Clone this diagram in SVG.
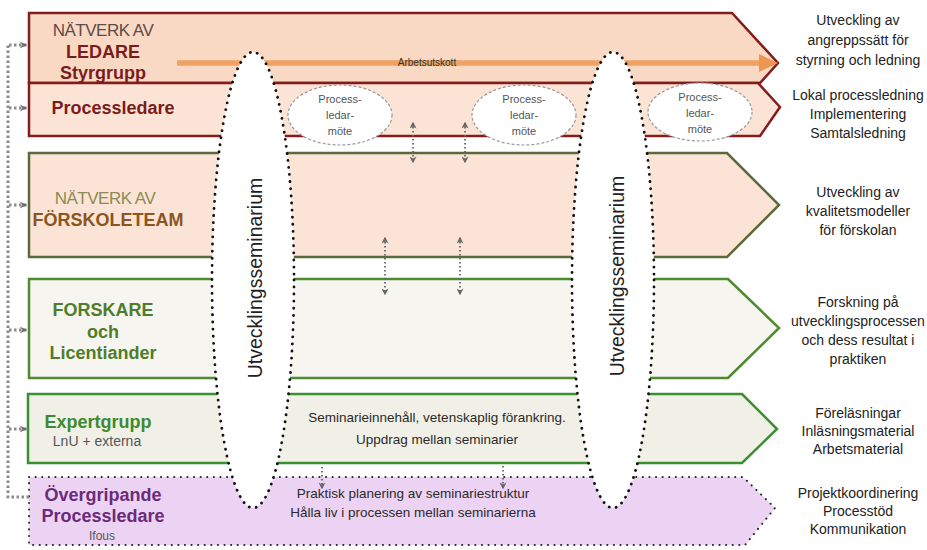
<svg xmlns="http://www.w3.org/2000/svg" width="927" height="550" viewBox="0 0 927 550">
<defs>
<style>
.lbl{font-family:"Liberation Sans",Arial,sans-serif;font-weight:bold;font-size:18px;text-anchor:middle}
.lt{font-family:"Liberation Sans",Arial,sans-serif;font-size:17px;text-anchor:middle;letter-spacing:-0.5px}
.rt{font-family:"Liberation Sans",Arial,sans-serif;font-size:14px;fill:#222;text-anchor:middle}
.mt{font-family:"Liberation Sans",Arial,sans-serif;font-size:13.5px;fill:#2a2a2a;text-anchor:middle}
.pm{font-family:"Liberation Sans",Arial,sans-serif;font-size:11px;fill:#555;text-anchor:middle}
.sem{font-family:"Liberation Sans",Arial,sans-serif;font-size:19.5px;fill:#222;text-anchor:middle}
.big{fill:#fff;stroke:#111;stroke-width:2.8;stroke-dasharray:0.1 7;stroke-linecap:round}
.small{fill:#fff;stroke:#999;stroke-width:1.2;stroke-dasharray:3 2}
.conn{fill:none;stroke:#8a8a8a;stroke-width:3;stroke-dasharray:2.5 2.5}
.da{fill:none;stroke:#666;stroke-width:1.8;stroke-dasharray:1.6 2.4}
</style>
<marker id="chev" viewBox="0 0 10 10" refX="9" refY="5" markerWidth="9" markerHeight="10" markerUnits="userSpaceOnUse" orient="auto">
<path d="M1,1 L9,5 L1,9 L4,5 Z" fill="#6a6a6a"/>
</marker>
<marker id="tri" viewBox="0 0 10 10" refX="8" refY="5" markerWidth="7" markerHeight="7" markerUnits="userSpaceOnUse" orient="auto-start-reverse">
<path d="M0,0 L10,5 L0,10 L3,5 Z" fill="#666"/>
</marker>
</defs>
<rect width="927" height="550" fill="#fff"/>

<g id="row-ledare">
<polygon points="29,13 732,13 778,63 760,83 29,83" fill="#f9d9c4" stroke="#851c1c" stroke-width="2.5"/>
</g>
<g id="row-processledare">
<polygon points="29,83 758,83 780,107 760,136 29,136" fill="#fbe3d5" stroke="#851c1c" stroke-width="2.5"/>
</g>
<g id="row-forskoleteam">
<polygon points="29,153 727,153 779,205 727,257 29,257" fill="#fbe4d5" stroke="#5b6a3a" stroke-width="2.5"/>
</g>
<g id="row-forskare">
<polygon points="29,279 728,279 779,328 728,378 29,378" fill="#f7f5f0" stroke="#4e8a2e" stroke-width="2.5"/>
</g>
<g id="row-expert">
<polygon points="28,394 742,394 777,429 742,463 28,463" fill="#f1f0e7" stroke="#3a9030" stroke-width="2.5"/>
</g>
<g id="row-overgripande">
<polygon points="29,477 743,477 775,508 745,545 29,545" fill="#ecd3f3" stroke="#222" stroke-width="2" stroke-dasharray="0.1 6.5" stroke-linecap="round"/>
</g>

<g id="arbetsutskott">
<line x1="177" y1="63" x2="762" y2="63" stroke="#f0a262" stroke-width="5.5"/>
<polygon points="759,54 778,63 759,72" fill="#ec9650"/>
</g>

<g id="seminarium-1">
<ellipse class="big" cx="253" cy="280" rx="41" ry="228"/>
<text class="sem" transform="translate(262,278) rotate(-90)">Utvecklingsseminarium</text>
</g>
<g id="seminarium-2">
<ellipse class="big" cx="613" cy="280" rx="41" ry="228"/>
<text class="sem" transform="translate(624,276) rotate(-90)">Utvecklingsseminarium</text>
</g>

<text x="427" y="66" font-family="Liberation Sans,Arial,sans-serif" font-size="10" fill="#333" text-anchor="middle">Arbetsutskott</text>

<g id="plm-1">
<ellipse class="small" cx="340" cy="115" rx="52" ry="30"/>
<text class="pm" x="340" y="103">Process-</text>
<text class="pm" x="340" y="119">ledar-</text>
<text class="pm" x="340" y="135">möte</text>
</g>
<g id="plm-2">
<ellipse class="small" cx="524" cy="115" rx="52" ry="30"/>
<text class="pm" x="524" y="103">Process-</text>
<text class="pm" x="524" y="119">ledar-</text>
<text class="pm" x="524" y="135">möte</text>
</g>
<g id="plm-3">
<ellipse class="small" cx="700" cy="112" rx="52" ry="29"/>
<text class="pm" x="700" y="101">Process-</text>
<text class="pm" x="700" y="117">ledar-</text>
<text class="pm" x="700" y="133">möte</text>
</g>

<g id="connectors">
<path class="conn" d="M29,497 L8,497 L8,44"/>
<line class="conn" x1="9" y1="45" x2="27" y2="45" marker-end="url(#chev)"/>
<line class="conn" x1="9" y1="108" x2="27" y2="108" marker-end="url(#chev)"/>
<line class="conn" x1="9" y1="205" x2="27" y2="205" marker-end="url(#chev)"/>
<line class="conn" x1="9" y1="330" x2="27" y2="330" marker-end="url(#chev)"/>
<line class="conn" x1="9" y1="429" x2="27" y2="429" marker-end="url(#chev)"/>
<line class="da" x1="413" y1="123" x2="413" y2="162" marker-start="url(#tri)" marker-end="url(#tri)"/>
<line class="da" x1="465" y1="123" x2="465" y2="162" marker-start="url(#tri)" marker-end="url(#tri)"/>
<line class="da" x1="385" y1="238" x2="385" y2="294" marker-start="url(#tri)" marker-end="url(#tri)"/>
<line class="da" x1="460" y1="238" x2="460" y2="294" marker-start="url(#tri)" marker-end="url(#tri)"/>
<line class="da" x1="322" y1="467" x2="322" y2="488" marker-end="url(#tri)"/>
<line class="da" x1="503" y1="466" x2="503" y2="488" marker-end="url(#tri)"/>
</g>

<g id="labels-left">
<text class="lt" x="103" y="36" fill="#5e4a46">NÄTVERK AV</text>
<text class="lbl" x="103" y="58" fill="#7b1c1c">LEDARE</text>
<text class="lbl" x="103" y="79" fill="#7b1c1c">Styrgrupp</text>
<text class="lbl" x="113" y="114" fill="#7b1c1c">Processledare</text>
<text class="lt" x="105" y="204" fill="#8c8a55">NÄTVERK AV</text>
<text class="lbl" x="108" y="226" fill="#8b5520">FÖRSKOLETEAM</text>
<text class="lbl" x="103" y="316" fill="#4f7d2b">FORSKARE</text>
<text class="lbl" x="103" y="338" fill="#4f7d2b">och</text>
<text class="lbl" x="103" y="359" fill="#4f7d2b">Licentiander</text>
<text class="lbl" x="98" y="428" fill="#3e8a30">Expertgrupp</text>
<text x="97" y="446" font-family="Liberation Sans,Arial,sans-serif" font-size="14" fill="#555" text-anchor="middle">LnU + externa</text>
<text class="lbl" x="103" y="501" fill="#6b2a7a">Övergripande</text>
<text class="lbl" x="103" y="522" fill="#6b2a7a">Processledare</text>
<text x="102" y="540" font-family="Liberation Sans,Arial,sans-serif" font-size="12" fill="#555" text-anchor="middle">Ifous</text>
</g>

<g id="labels-middle">
<text class="mt" x="437" y="422">Seminarieinnehåll, vetenskaplig förankring.</text>
<text class="mt" x="437" y="444">Uppdrag mellan seminarier</text>
<text class="mt" x="413" y="498">Praktisk planering av seminariestruktur</text>
<text class="mt" x="413" y="517">Hålla liv i processen mellan seminarierna</text>
</g>

<g id="labels-right">
<text class="rt" x="858" y="25">Utveckling av</text>
<text class="rt" x="858" y="45">angreppssätt för</text>
<text class="rt" x="858" y="65">styrning och ledning</text>
<text class="rt" x="858" y="100">Lokal processledning</text>
<text class="rt" x="858" y="119">Implementering</text>
<text class="rt" x="858" y="138">Samtalsledning</text>
<text class="rt" x="858" y="197">Utveckling av</text>
<text class="rt" x="858" y="216">kvalitetsmodeller</text>
<text class="rt" x="858" y="235">för förskolan</text>
<text class="rt" x="858" y="307">Forskning på</text>
<text class="rt" x="858" y="326">utvecklingsprocessen</text>
<text class="rt" x="858" y="345">och dess resultat i</text>
<text class="rt" x="858" y="364">praktiken</text>
<text class="rt" x="858" y="418">Föreläsningar</text>
<text class="rt" x="858" y="436">Inläsningsmaterial</text>
<text class="rt" x="858" y="454">Arbetsmaterial</text>
<text class="rt" x="858" y="498">Projektkoordinering</text>
<text class="rt" x="858" y="516">Processtöd</text>
<text class="rt" x="858" y="534">Kommunikation</text>
</g>
</svg>
